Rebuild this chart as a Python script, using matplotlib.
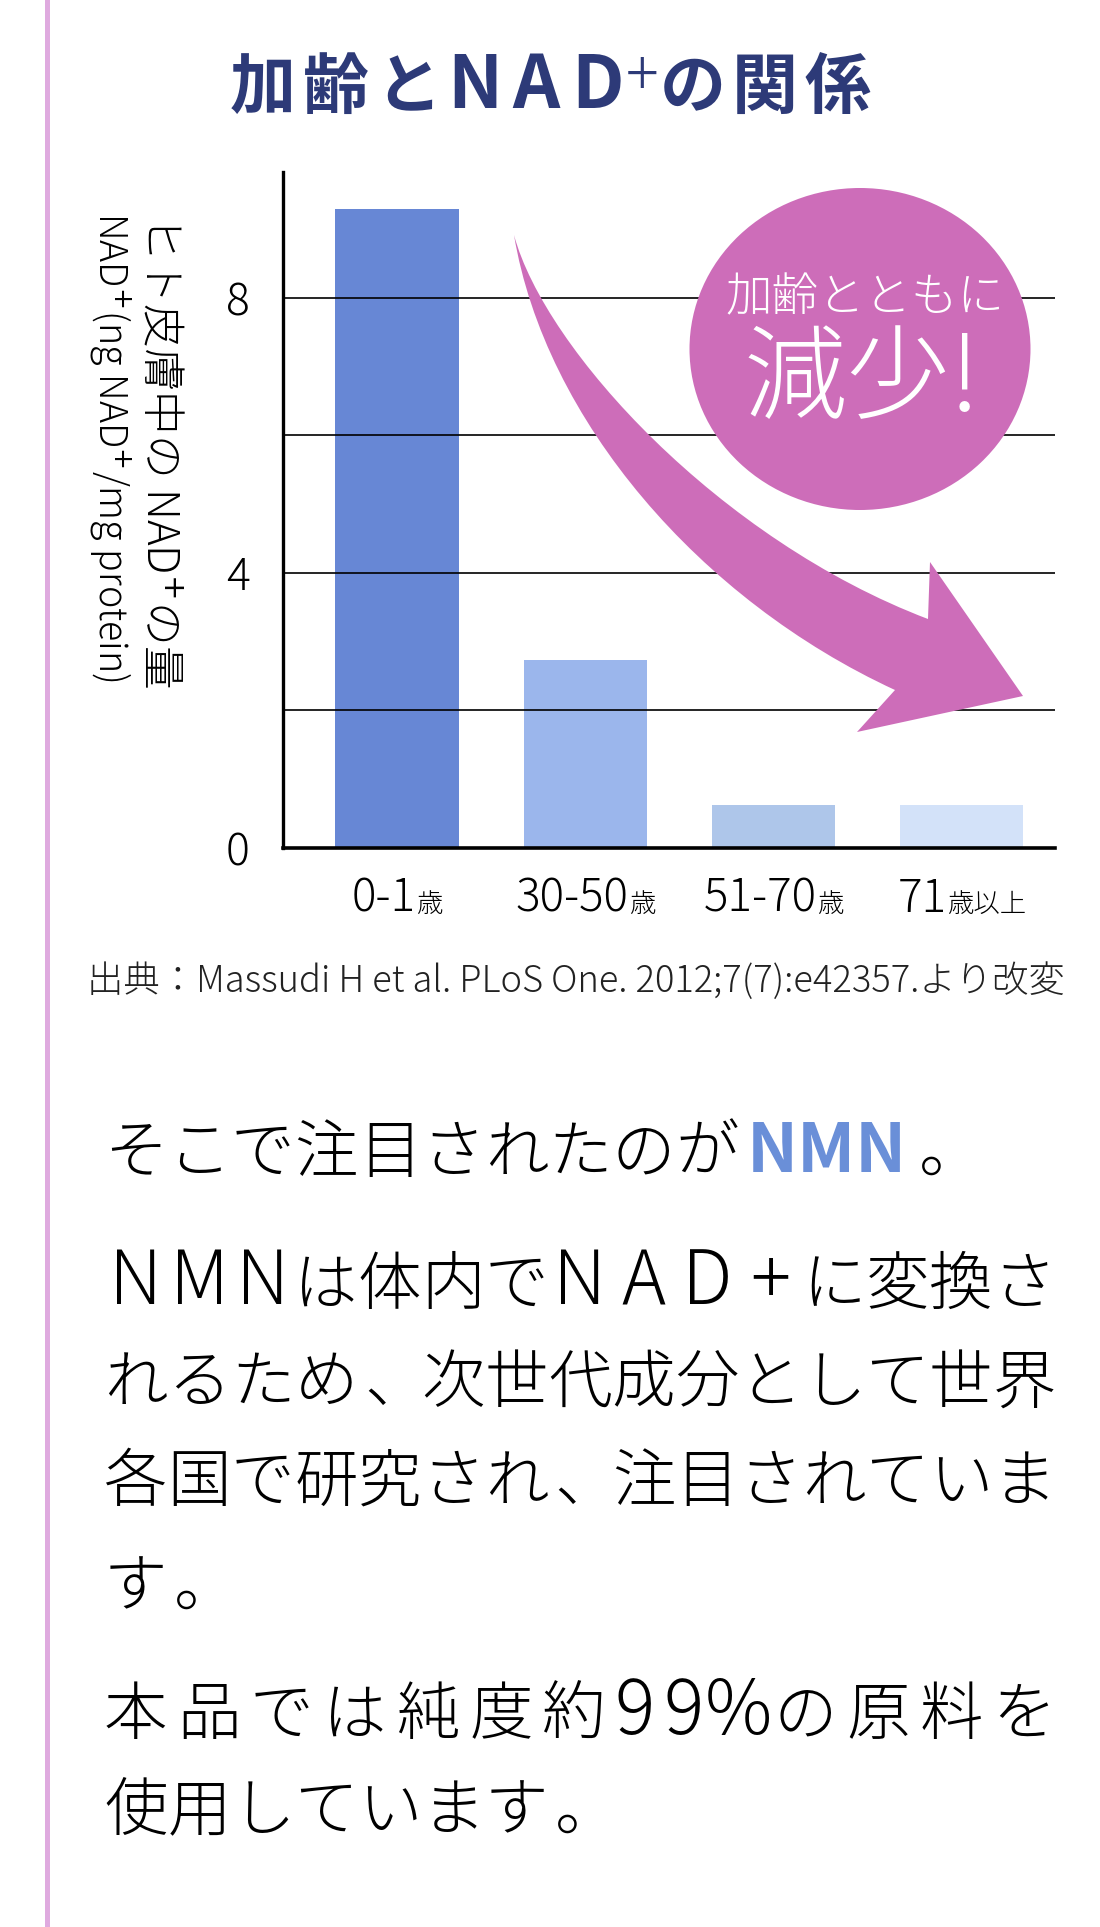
import matplotlib
matplotlib.use('Agg')
import matplotlib.pyplot as plt
from matplotlib.patches import Ellipse, PathPatch, Rectangle
from matplotlib.path import Path
from matplotlib.transforms import IdentityTransform

W, H = 1100, 1927
JP = ['Noto Sans CJK JP', 'DejaVu Sans']
plt.rcParams['font.family'] = JP
plt.rcParams['mathtext.fontset'] = 'dejavusans'

# --- data -------------------------------------------------------------
age_nums = ['0-1', '30-50', '51-70', '71']
age_units = ['歳', '歳', '歳', '歳以上']
nad_values = [9.29, 2.73, 0.63, 0.63]
bar_colors = ['#6787d5', '#9bb6ec', '#aec6ea', '#d3e2f9']
y_ticks = [0, 2, 4, 6, 8]
y_ticklabels = ['0', '', '4', '', '8']

title = '加齢とNAD+の関係'
ylabel_1 = 'ヒト皮膚中の NAD$^{+}$の量'
ylabel_2 = 'NAD$^{+}$(ng NAD$^{+}$/mg protein)'
badge_1 = '加齢とともに'
badge_2 = '減少!'
source = '出典：Massudi H et al. PLoS One. 2012;7(7):e42357.より改変'

lead_text = 'そこで注目されたのが'
lead_key = 'NMN'
body_lines = ['NMNは体内でNAD+に変換さ',
              'れるため、次世代成分として世界',
              '各国で研究され、注目されていま',
              'す。',
              '本品では純度約99%の原料を',
              '使用しています。']
body_justify = [True, True, True, False, True, False]
body_y = [1280, 1378, 1477, 1582, 1710, 1806]

PINK = '#cd6db9'
NAVY = '#2d3a78'
ID = IdentityTransform()


def P(x, y):
    # image pixel (top-left origin) -> display pixel
    return x, H - y


fig = plt.figure(figsize=(W / 100, H / 100), dpi=100)
fig.patch.set_facecolor('white')
renderer = fig.canvas.get_renderer()

# left decorative rule
fig.add_artist(Rectangle(P(45, H), 5, H, transform=ID, color='#dfaadf', lw=0))

# --- chart --------------------------------------------------------------
ax = fig.add_axes([283 / W, 1 - 848 / H, (1055 - 283) / W, (848 - 172) / H])
x = list(range(len(nad_values)))
ax.bar(x, nad_values, width=0.655, color=bar_colors, zorder=1)
ax.set_xlim(-0.606, 3.495)
ax.set_ylim(0, 9.83)
ax.set_yticks(y_ticks)
ax.set_yticklabels(y_ticklabels, fontsize=32, fontweight='light')
ax.set_xticks([])
ax.tick_params(axis='y', length=0, pad=24)
ax.set_axisbelow(False)
ax.yaxis.grid(True, color='black', lw=1.2)
for s in ['top', 'right']:
    ax.spines[s].set_visible(False)
ax.spines['left'].set_linewidth(2.4)
ax.spines['bottom'].set_linewidth(2.6)
ax.set_facecolor('none')

# x labels: number + small unit, centred under each bar
for i, (num, unit) in enumerate(zip(age_nums, age_units)):
    cx = ax.transData.transform((x[i], 0))[0]
    t1 = fig.text(0, 0, num, transform=ID, fontsize=33, fontweight='light',
                  ha='left', va='baseline')
    t2 = fig.text(0, 0, unit, transform=ID, fontsize=19, fontweight='light',
                  ha='left', va='baseline')
    w1 = t1.get_window_extent(renderer).width
    w2 = t2.get_window_extent(renderer).width
    left = cx - (w1 + w2) / 2
    t1.set_position((left, H - 912))
    t2.set_position((left + w1, H - 912))

# y label (two rotated lines)
fig.text(*P(160, 451), ylabel_1, transform=ID, rotation=-90, ha='center',
         va='center', fontsize=31.5, fontweight='light')
t = fig.text(*P(110, 447), ylabel_2, transform=ID, rotation=-90, ha='center',
             va='center', fontsize=28, fontweight='light')
t.set_fontsize(28 * 470 / t.get_window_extent(renderer).height)

# curved arrow
verts = [P(514, 235), P(545, 350), P(720, 540), P(928, 619),
         P(930, 562), P(1023, 696), P(857, 732), P(895, 690),
         P(700, 600), P(545, 420), P(514, 235), P(514, 235)]
codes = [Path.MOVETO, Path.CURVE4, Path.CURVE4, Path.CURVE4,
         Path.LINETO, Path.LINETO, Path.LINETO, Path.LINETO,
         Path.CURVE4, Path.CURVE4, Path.CURVE4, Path.CLOSEPOLY]
fig.add_artist(PathPatch(Path(verts, codes), transform=ID, fc=PINK, ec='none',
                         zorder=2))

# badge
fig.add_artist(Ellipse(P(860, 349), 341, 322, transform=ID, fc=PINK, ec='none',
                       zorder=2.1))
t = fig.text(*P(865, 298), badge_1, transform=ID, ha='center',
             va='center', fontsize=34, color='white', fontweight='light')
t.set_fontsize(34 * 279 / t.get_window_extent(renderer).width)
t = fig.text(*P(862, 382), badge_2, transform=ID, ha='center', va='center',
             fontsize=72, color='white', fontweight='light')
t.set_fontsize(72 * 237 / t.get_window_extent(renderer).width)


# title, placed glyph by glyph
def cell(c):
    if c.isdigit():
        return 0.62
    if c == '%':
        return 0.8
    return 1.0


tw = [0.39 if c == '+' else (0.85 if c.isascii() else 1.0) for c in title]
unit = (873.5 - 227) / sum(tw)
xc = 227
for c, w in zip(title, tw):
    mid = xc + w * unit / 2
    if c == '+':
        fig.text(*P(mid, 78), c, transform=ID, ha='center', va='center',
                 fontsize=44, color=NAVY, fontweight='light')
    else:
        fs = 53 if c.isascii() else 47.5
        fig.text(*P(mid, 108), c, transform=ID, ha='center', va='baseline',
                 fontsize=fs, color=NAVY, fontweight='bold')
    xc += w * unit

# source
t = fig.text(*P(575.5, 982), source, transform=ID, ha='center', va='center',
             fontsize=22, color='#222222', fontweight='light')
t.set_fontsize(22 * 978 / t.get_window_extent(renderer).width)

# --- body text -----------------------------------------------------------
EM = 63.5
FS = EM * 0.72


def draw_line(s, x0, yc, x1=None, **kw):
    ws = [cell(c) * EM for c in s]
    gap = 0
    if x1 is not None and len(s) > 1:
        gap = (x1 - x0 - sum(ws)) / (len(s) - 1)
    base = yc + 0.38 * EM
    xx = x0
    for c, w in zip(s, ws):
        fs = FS * 1.18 if c.isascii() else FS
        if c in '、。':
            fig.text(*P(xx + 0.1 * w, base), c, transform=ID, ha='left',
                     va='baseline', fontsize=fs, fontweight='light', **kw)
        else:
            fig.text(*P(xx + w / 2, base), c, transform=ID, ha='center',
                     va='baseline', fontsize=fs, fontweight='light', **kw)
        xx += w + gap
    return xx


draw_line(lead_text, 104, 1148)
fig.text(*P(747, 1148 + 0.38 * EM), lead_key, transform=ID, ha='left',
         va='baseline', fontsize=49, fontweight='bold', color='#6a8fd8')
fig.text(*P(919, 1148 + 0.38 * EM), '。', transform=ID, ha='left',
         va='baseline', fontsize=FS, fontweight='light')

for s, j, y in zip(body_lines, body_justify, body_y):
    draw_line(s, 104, y, 1056 if j else None)

fig.savefig('out.png', dpi=100, facecolor='white')
